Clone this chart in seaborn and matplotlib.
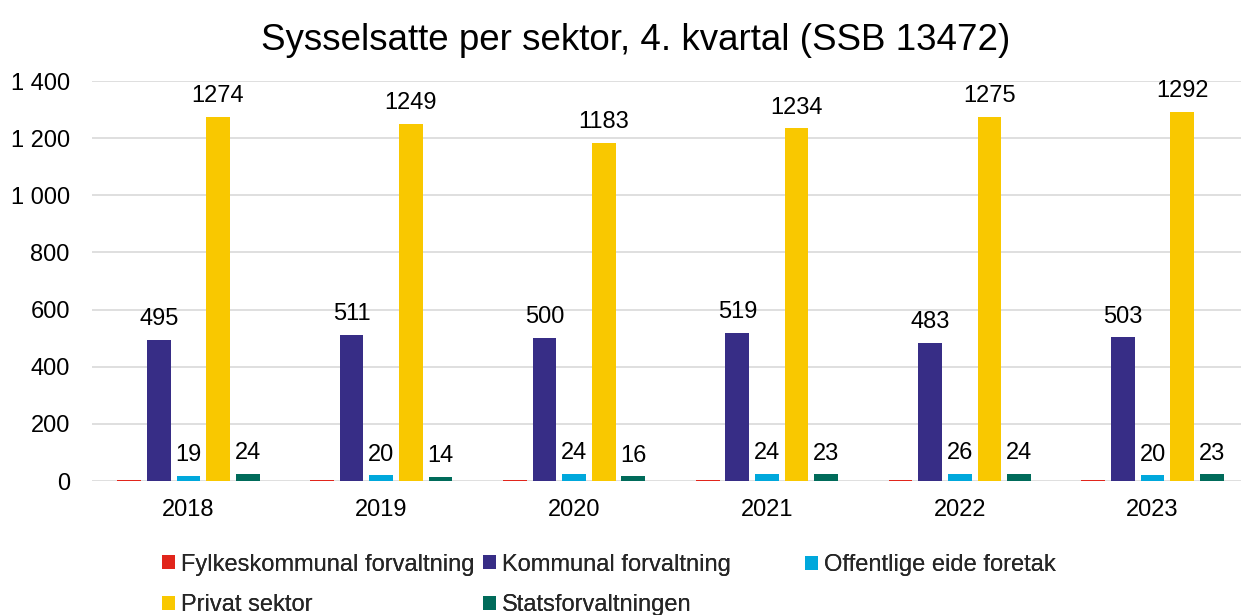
import matplotlib
matplotlib.use("Agg")
import matplotlib.pyplot as plt
import matplotlib.ticker as mticker
from matplotlib.patches import Patch
import pandas as pd
import seaborn as sns

# ── Data ──────────────────────────────────────────────────────────────────────
years = ["2018", "2019", "2020", "2021", "2022", "2023"]
sectors = [
    "Fylkeskommunal forvaltning",
    "Kommunal forvaltning",
    "Offentlige eide foretak",
    "Privat sektor",
    "Statsforvaltningen",
]
fylkes = [2, 2, 2, 2, 2, 2]
kommunal = [495, 511, 500, 519, 483, 503]
offentlige = [19, 20, 24, 24, 26, 20]
privat = [1274, 1249, 1183, 1234, 1275, 1292]
stats = [24, 14, 16, 23, 24, 23]

COLORS = ["#E1251B", "#372D86", "#00A8DC", "#F9C800", "#006B5A"]

df = pd.DataFrame({
    "year": years * 5,
    "sektor": [s for s in sectors for _ in years],
    "value": fylkes + kommunal + offentlige + privat + stats,
})

sns.set_theme(style="white")
plt.rcParams["font.family"] = ["Liberation Sans", "DejaVu Sans"]

fig = plt.figure(figsize=(12.41, 6.15), dpi=100)
ax = fig.add_axes([92 / 1241, 134 / 615, 1157 / 1241, 400 / 615])

sns.barplot(
    data=df, x="year", y="value", hue="sektor", hue_order=sectors,
    palette=COLORS, saturation=1, width=0.768, gap=0.2,
    errorbar=None, legend=False, linewidth=0, ax=ax,
)

# value labels (not for the tiny fylkeskommunal bars)
for cont in ax.containers[1:]:
    ax.bar_label(cont, padding=7, fontsize=17, color="black")

ax.set_ylim(0, 1400)
ax.set_yticks(range(0, 1401, 200))
ax.yaxis.set_major_formatter(
    mticker.FuncFormatter(lambda v, _: f"{int(v):,}".replace(",", " "))
)
ax.grid(axis="y", color="#d9d9d9", linewidth=1.2)
ax.set_axisbelow(True)
for s in ax.spines.values():
    s.set_visible(False)
ax.tick_params(axis="both", length=0, labelsize=17, colors="black")
ax.tick_params(axis="y", pad=16)
ax.tick_params(axis="x", pad=13)
ax.set_xlabel("")
ax.set_ylabel("")

fig.text(636 / 1241, 1 - 41 / 615, "Sysselsatte per sektor, 4. kvartal (SSB 13472)",
         ha="center", va="center", fontsize=26.5, color="black")

# legend laid out like Excel: three fixed-width columns, row-major order
handles = [Patch(facecolor=c, edgecolor="none") for c in COLORS]
columns = [([0, 3], 162, 585), ([1, 4], 483, 585), ([2], 805, 565)]
for idx, x, yc in columns:
    leg = fig.legend(
        [handles[i] for i in idx], [sectors[i] for i in idx],
        loc="center left", bbox_to_anchor=(x / 1241, 1 - yc / 615),
        frameon=False, fontsize=17, ncol=1,
        handlelength=0.55, handleheight=0.55, handletextpad=0.25,
        labelspacing=0.8, borderpad=0, borderaxespad=0,
    )
    fig.add_artist(leg)

fig.savefig("out.png", dpi=100)
